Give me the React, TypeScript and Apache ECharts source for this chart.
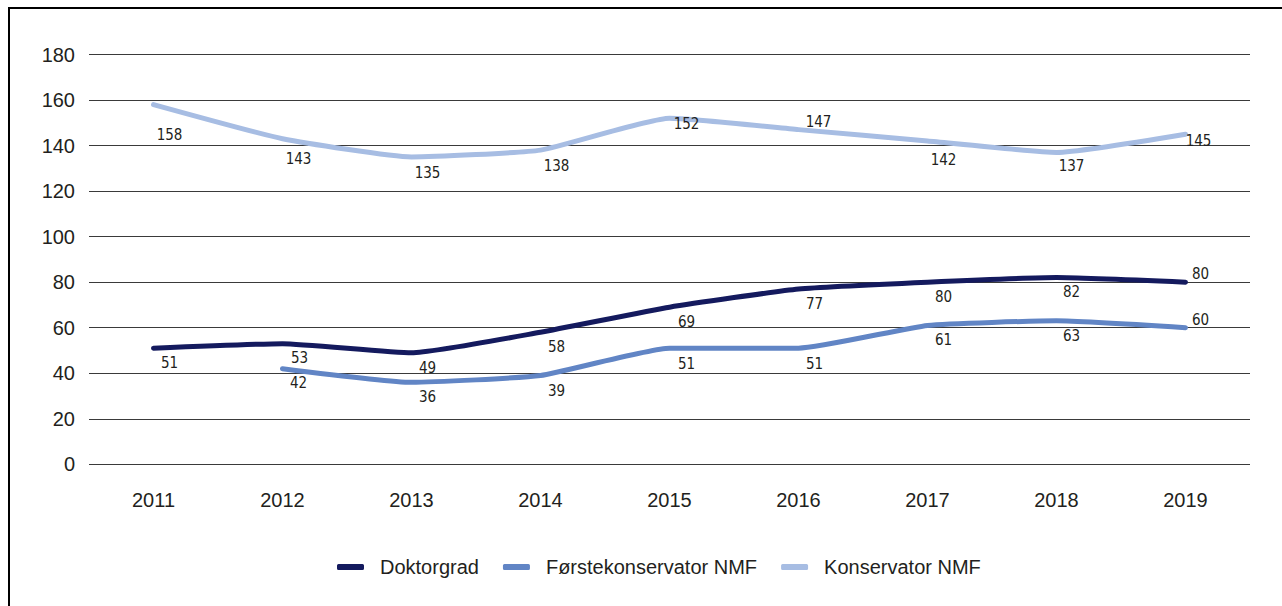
import React, { useEffect, useRef } from "react";
import * as echarts from "echarts";

const years = ["2011", "2012", "2013", "2014", "2015", "2016", "2017", "2018", "2019"];
const doktorgrad = [51, 53, 49, 58, 69, 77, 80, 82, 80];
const forstekonservator = [null, 42, 36, 39, 51, 51, 61, 63, 60];
const konservator = [158, 143, 135, 138, 152, 147, 142, 137, 145];
const yTicks = { min: 0, max: 180, interval: 20 };

// label placement offsets (layout only)
const dokOffsets: [number, number][] = [
  [16, 15], [17, 14], [16, 15], [16, 15], [17, 15], [16, 15], [16, 15], [15, 14], [15, -8],
];
const forsteOffsets: [number, number][] = [
  [0, 0], [16, 14], [16, 15], [16, 15], [17, 16], [16, 16], [16, 15], [15, 15], [15, -8],
];
const konsOffsets: [number, number][] = [
  [16, 30], [16, 20], [16, 16], [16, 16], [17, 6], [20, -8], [16, 19], [15, 14], [13, 7],
];

const textColor = "#231f20";
const labelFont = "'DejaVu Sans Condensed', 'Liberation Sans', sans-serif";
const axisFont = "'Liberation Sans', Arial, sans-serif";

function build(values: (number | null)[], offsets: [number, number][]) {
  return values.map((v, i) =>
    v === null ? null : { value: v, label: { offset: offsets[i] } }
  );
}

export default function App() {
  const ref = useRef<HTMLDivElement>(null);
  useEffect(() => {
    if (!ref.current) return;
    const chart = echarts.init(ref.current, undefined, { renderer: "svg" });
    const lineSeries = (name: string, color: string, values: (number | null)[], offsets: [number, number][]) => ({
      name,
      type: "line",
      data: build(values, offsets),
      symbol: "circle",
      symbolSize: 1,
      showSymbol: true,
      smooth: 0.15,
      connectNulls: false,
      lineStyle: { color, width: 5, cap: "round", join: "round" },
      itemStyle: { color },
      label: {
        show: true,
        position: "inside",
        color: textColor,
        fontSize: 15,
        fontFamily: labelFont,
      },
      emphasis: { disabled: true },
    });
    chart.setOption({
      animation: false,
      backgroundColor: "#ffffff",
      grid: { left: 89, right: 32, top: 54.5, bottom: 141.7, containLabel: false },
      graphic: [
        { type: "line", shape: { x1: 9, y1: 7, x2: 9, y2: 606 }, style: { stroke: "#000", lineWidth: 2 } },
        { type: "line", shape: { x1: 8, y1: 8, x2: 1282, y2: 8 }, style: { stroke: "#000", lineWidth: 2 } },
      ],
      legend: {
        left: 332,
        top: 552,
        itemGap: 24,
        itemWidth: 27,
        itemHeight: 6,
        icon: "roundRect",
        textStyle: { color: textColor, fontSize: 20, fontFamily: axisFont, padding: [0, 0, 0, 11] },
        data: ["Doktorgrad", "Førstekonservator NMF", "Konservator NMF"],
      },
      xAxis: {
        type: "category",
        data: years,
        boundaryGap: true,
        axisLine: { show: false },
        axisTick: { show: false },
        axisLabel: { color: textColor, fontSize: 20, fontFamily: axisFont, margin: 26 },
      },
      yAxis: {
        type: "value",
        min: yTicks.min,
        max: yTicks.max,
        interval: yTicks.interval,
        axisLine: { show: false },
        axisTick: { show: false },
        axisLabel: { color: textColor, fontSize: 20, fontFamily: axisFont, margin: 14 },
        splitLine: { lineStyle: { color: "#3a3a3a", width: 1 } },
      },
      series: [
        lineSeries("Doktorgrad", "#141a5e", doktorgrad, dokOffsets),
        lineSeries("Førstekonservator NMF", "#6185c5", forstekonservator, forsteOffsets),
        lineSeries("Konservator NMF", "#a7bde3", konservator, konsOffsets),
      ],
    });
    return () => chart.dispose();
  }, []);
  return (
    <div
      ref={ref}
      style={{ position: "absolute", left: 0, top: 0, width: 1282, height: 606 }}
    />
  );
}
